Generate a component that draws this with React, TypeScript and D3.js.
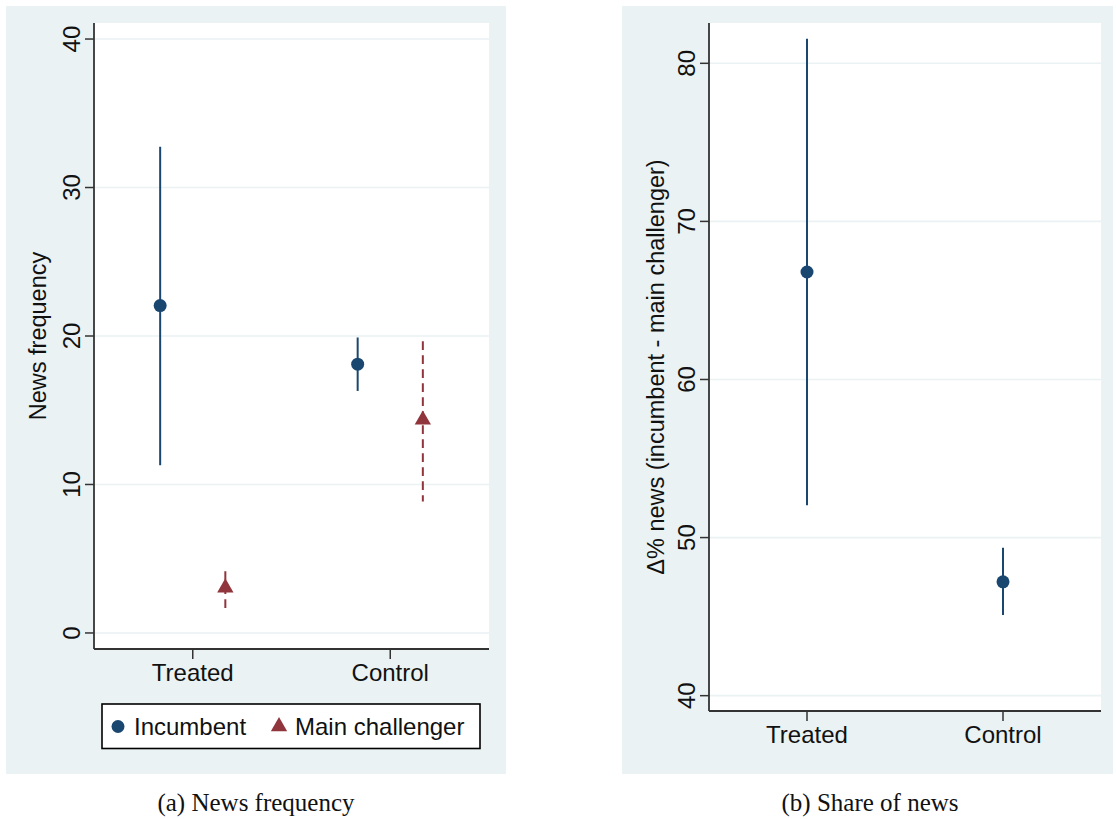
import React from 'react';
import * as d3 from 'd3';

// categories and values
const groups = ['Treated', 'Control'];

const incumbentFreq = [22.05, 18.1];
const incumbentFreqLow = [11.3, 16.3];
const incumbentFreqHigh = [32.75, 19.9];

const challengerFreq = [3.05, 14.35];
const challengerFreqLow = [1.45, 8.85];
const challengerFreqHigh = [4.15, 19.65];

const shareDiff = [66.8, 47.2];
const shareDiffLow = [52.05, 45.1];
const shareDiffHigh = [81.55, 49.35];

const freqTicks = [0, 10, 20, 30, 40];
const shareTicks = [40, 50, 60, 70, 80];

const navy = '#1a476f';
const maroon = '#90353b';
const bg = '#eaf2f3';
const font = '"Liberation Sans", Arial, Helvetica, sans-serif';
const serif = '"Liberation Serif", "Times New Roman", serif';

const W = 1116;
const H = 819;

// panel a
const a = { bgX: 6, bgY: 6, bgW: 500, bgH: 768, left: 94, right: 489, top: 23, bottom: 649 };
// panel b
const b = { bgX: 622, bgY: 6, bgW: 491, bgH: 768, left: 709, right: 1101, top: 23, bottom: 711 };

const xA = d3.scaleLinear().domain([0.5, 2.5]).range([a.left, a.right]);
const yA = d3.scaleLinear().domain([-1.08, 41.08]).range([a.bottom, a.top]);
const xB = d3.scaleLinear().domain([0.5, 2.5]).range([b.left, b.right]);
const yB = d3.scaleLinear().domain([39.03, 82.55]).range([b.bottom, b.top]);

const offset = 0.165;
const triangle = d3.symbol(d3.symbolTriangle, 115)();

function Axes({ p, x, y, ticks, title, titleX }) {
  const midY = (p.top + p.bottom) / 2;
  return (
    <g>
      <rect x={p.bgX} y={p.bgY} width={p.bgW} height={p.bgH} fill={bg} />
      <rect x={p.left} y={p.top} width={p.right - p.left} height={p.bottom - p.top} fill="#fff" />
      {/* grid */}
      {ticks.map(t => (
        <line key={'g' + t} x1={p.left} x2={p.right} y1={y(t)} y2={y(t)} stroke={bg} strokeWidth={1.6} />
      ))}
      {/* y axis */}
      <line x1={p.left} x2={p.left} y1={p.top} y2={p.bottom} stroke="#333" strokeWidth={1.8} />
      {ticks.map(t => (
        <g key={'t' + t}>
          <line x1={p.left - 9} x2={p.left} y1={y(t)} y2={y(t)} stroke="#333" strokeWidth={1.5} />
          <text transform={`translate(${p.left - 14},${y(t)}) rotate(-90)`} textAnchor="middle"
            fontFamily={font} fontSize={24} fill="#111">{t}</text>
        </g>
      ))}
      <text transform={`translate(${titleX},${midY}) rotate(-90)`} textAnchor="middle"
        fontFamily={font} fontSize={23.5} fill="#111">{title}</text>
      {/* x axis */}
      <line x1={p.left} x2={p.right} y1={p.bottom} y2={p.bottom} stroke="#333" strokeWidth={1.8} />
      {groups.map((g, i) => (
        <g key={g}>
          <line x1={x(i + 1)} x2={x(i + 1)} y1={p.bottom} y2={p.bottom + 10} stroke="#333" strokeWidth={1.5} />
          <text x={x(i + 1)} y={p.bottom + 31.5} textAnchor="middle" fontFamily={font} fontSize={24} fill="#111">{g}</text>
        </g>
      ))}
    </g>
  );
}

export default function App() {
  return (
    <svg width={W} height={H} style={{ position: 'absolute', left: 0, top: 0, display: 'block', background: '#fff' }}>
      {/* (a) News frequency */}
      <Axes p={a} x={xA} y={yA} ticks={freqTicks} title="News frequency" titleX={46} />
      {groups.map((g, i) => (
        <g key={'inc' + g}>
          <line x1={xA(i + 1 - offset)} x2={xA(i + 1 - offset)} y1={yA(incumbentFreqLow[i])} y2={yA(incumbentFreqHigh[i])}
            stroke={navy} strokeWidth={2} />
          <circle cx={xA(i + 1 - offset)} cy={yA(incumbentFreq[i])} r={6.5} fill={navy} />
        </g>
      ))}
      {groups.map((g, i) => (
        <g key={'ch' + g}>
          {/* dashes run from the upper end down */}
          <line x1={xA(i + 1 + offset)} x2={xA(i + 1 + offset)} y1={yA(challengerFreqHigh[i])} y2={yA(challengerFreqLow[i])}
            stroke={maroon} strokeWidth={2} strokeDasharray="8.7,5.3" />
          <path d={triangle} transform={`translate(${xA(i + 1 + offset)},${yA(challengerFreq[i])})`} fill={maroon} />
        </g>
      ))}
      {/* legend */}
      <g>
        <rect x={102} y={704} width={378} height={44.5} fill="#fff" stroke="#000" strokeWidth={1.6} />
        <circle cx={118} cy={726.5} r={6.5} fill={navy} />
        <text x={134} y={735} fontFamily={font} fontSize={24} fill="#111">Incumbent</text>
        <path d={triangle} transform="translate(279,726.5)" fill={maroon} />
        <text x={295} y={735} fontFamily={font} fontSize={24} fill="#111">Main challenger</text>
      </g>
      <text x={256} y={811} textAnchor="middle" fontFamily={serif} fontSize={25} fill="#111">
        (a) News frequency
      </text>

      {/* (b) Share of news */}
      <Axes p={b} x={xB} y={yB} ticks={shareTicks} title="Δ% news (incumbent - main challenger)" titleX={664} />
      {groups.map((g, i) => (
        <g key={'sh' + g}>
          <line x1={xB(i + 1)} x2={xB(i + 1)} y1={yB(shareDiffLow[i])} y2={yB(shareDiffHigh[i])} stroke={navy} strokeWidth={2} />
          <circle cx={xB(i + 1)} cy={yB(shareDiff[i])} r={6.5} fill={navy} />
        </g>
      ))}
      <text x={870} y={811} textAnchor="middle" fontFamily={serif} fontSize={25} fill="#111">
        (b) Share of news
      </text>
    </svg>
  );
}
